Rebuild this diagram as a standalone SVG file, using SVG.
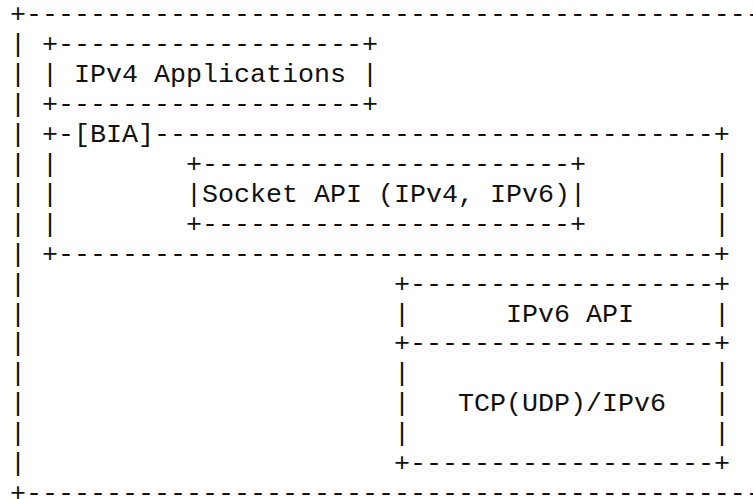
<svg xmlns="http://www.w3.org/2000/svg" width="753" height="499" viewBox="0 0 753 499">
<style>
text{font-family:"Liberation Mono","Courier New",monospace;font-size:26.667px;fill:#111;white-space:pre}
</style>
<rect width="753" height="499" fill="#fff"/>
<g id="outer-host">
<text x="10" y="22">+-----------------------------------------------</text>
<text x="10" y="52">|</text><text x="10" y="82">|</text><text x="10" y="112">|</text><text x="10" y="142">|</text>
<text x="10" y="172">|</text><text x="10" y="202">|</text><text x="10" y="232">|</text><text x="10" y="262">|</text>
<text x="10" y="292">|</text><text x="10" y="322">|</text><text x="10" y="351">|</text><text x="10" y="381">|</text>
<text x="10" y="411">|</text><text x="10" y="441">|</text><text x="10" y="471">|</text>
<text x="10" y="501">+-----------------------------------------------</text>
</g>
<g id="ipv4-applications">
<text x="42" y="52">+-------------------+</text>
<text x="42" y="82">| IPv4 Applications |</text>
<text x="42" y="112">+-------------------+</text>
</g>
<g id="bia">
<text x="42" y="142">+-[BIA]-----------------------------------+</text>
<text x="42" y="172">|</text><text x="714" y="172">|</text>
<text x="42" y="202">|</text><text x="714" y="202">|</text>
<text x="42" y="232">|</text><text x="714" y="232">|</text>
<text x="42" y="262">+-----------------------------------------+</text>
</g>
<g id="socket-api">
<text x="186" y="172">+-----------------------+</text>
<text x="186" y="202">|Socket API (IPv4, IPv6)|</text>
<text x="186" y="232">+-----------------------+</text>
</g>
<g id="ipv6-api">
<text x="394" y="292">+-------------------+</text>
<text x="394" y="322">|</text><text x="506" y="322">IPv6 API</text><text x="714" y="322">|</text>
<text x="394" y="351">+-------------------+</text>
</g>
<g id="tcp-udp-ipv6">
<text x="394" y="381">|</text><text x="714" y="381">|</text>
<text x="394" y="411">|</text><text x="458" y="411">TCP(UDP)/IPv6</text><text x="714" y="411">|</text>
<text x="394" y="441">|</text><text x="714" y="441">|</text>
<text x="394" y="471">+-------------------+</text>
</g>
<g id="connectors"></g>
</svg>
